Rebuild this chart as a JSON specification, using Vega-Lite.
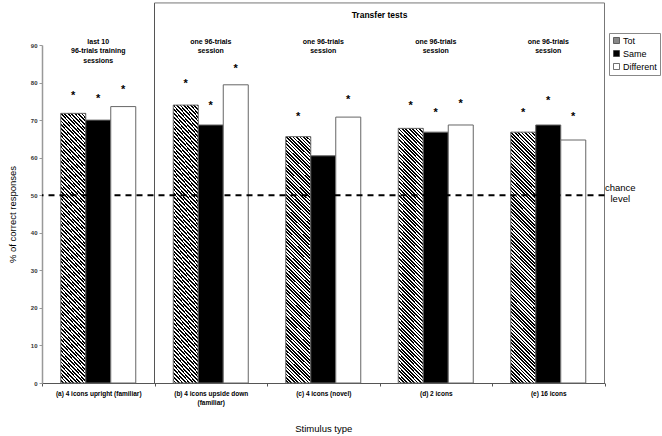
{
  "$schema": "https://vega.github.io/schema/vega-lite/v6.json",
  "width": 562.5,
  "height": 338,
  "autosize": {"type": "none"},
  "padding": {"left": 42, "top": 45, "right": 57.5, "bottom": 53},
  "background": "white",
  "config": {
    "view": {"stroke": null},
    "font": "Liberation Sans, Arial, sans-serif",
    "axisY": {"tickCount": 10, "labelOverlap": false, "labelBound": false}
  },
  "datasets": {
    "bars": [
      {"group": "(a) 4 icons upright (familiar)", "type": "Tot", "value": 71.8, "star": 76.4},
      {"group": "(a) 4 icons upright (familiar)", "type": "Same", "value": 70.0, "star": 75.5},
      {"group": "(a) 4 icons upright (familiar)", "type": "Different", "value": 73.6, "star": 78.0},
      {"group": "(b) 4 icons upside down (familiar)", "type": "Tot", "value": 74.0, "star": 79.5},
      {"group": "(b) 4 icons upside down (familiar)", "type": "Same", "value": 68.7, "star": 73.8},
      {"group": "(b) 4 icons upside down (familiar)", "type": "Different", "value": 79.4, "star": 83.7},
      {"group": "(c) 4 icons (novel)", "type": "Tot", "value": 65.6, "star": 70.7},
      {"group": "(c) 4 icons (novel)", "type": "Same", "value": 60.5, "star": null},
      {"group": "(c) 4 icons (novel)", "type": "Different", "value": 70.8, "star": 75.4},
      {"group": "(d) 2 icons", "type": "Tot", "value": 67.8, "star": 73.8},
      {"group": "(d) 2 icons", "type": "Same", "value": 66.8, "star": 71.8},
      {"group": "(d) 2 icons", "type": "Different", "value": 68.7, "star": 74.2},
      {"group": "(e) 16 icons", "type": "Tot", "value": 66.8, "star": 71.8},
      {"group": "(e) 16 icons", "type": "Same", "value": 68.7, "star": 75.1},
      {"group": "(e) 16 icons", "type": "Different", "value": 64.7, "star": 70.9}
    ],
    "notes": [
      {"group": "(a) 4 icons upright (familiar)", "label": "last 10\n96-trials training\nsessions"},
      {"group": "(b) 4 icons upside down (familiar)", "label": "one 96-trials\nsession"},
      {"group": "(c) 4 icons (novel)", "label": "one 96-trials\nsession"},
      {"group": "(d) 2 icons", "label": "one 96-trials\nsession"},
      {"group": "(e) 16 icons", "label": "one 96-trials\nsession"}
    ]
  },
  "layer": [
    {
      "data": {"name": "bars"},
      "mark": {"type": "bar", "stroke": "#666", "strokeWidth": 1},
      "encoding": {
        "x": {
          "field": "group", "type": "nominal", "sort": null,
          "scale": {"domain": ["(a) 4 icons upright (familiar)", "(b) 4 icons upside down (familiar)", "(c) 4 icons (novel)", "(d) 2 icons", "(e) 16 icons"], "paddingInner": 0, "paddingOuter": 0},
          "axis": {
            "title": "Stimulus type", "titleFontSize": 9.5, "titleFontWeight": "normal", "titleColor": "#000",
            "titleY": 45, "titleBaseline": "middle",
            "labelAngle": 0, "labelFontSize": 6.5, "labelFontWeight": "bold", "labelColor": "#000",
            "labelPadding": 4, "labelLineHeight": 9, "labelLimit": 0, "labelOverlap": false,
            "labelExpr": "datum.value == '(b) 4 icons upside down (familiar)' ? ['(b) 4 icons upside down', '(familiar)'] : datum.value",
            "tickBand": "extent", "tickSize": 3, "domainColor": "#555", "tickColor": "#555"
          }
        },
        "xOffset": {
          "field": "type", "type": "nominal", "sort": ["Tot", "Same", "Different"],
          "scale": {"domain": ["Tot", "Same", "Different"], "paddingInner": 0, "paddingOuter": 0.75}
        },
        "y": {
          "field": "value", "type": "quantitative",
          "scale": {"domain": [0, 90], "nice": false},
          "axis": {
            "title": "% of correct responses", "titleFontSize": 9.5, "titleFontWeight": "normal", "titleColor": "#000",
            "titleX": -30, "titleBaseline": "middle",
            "values": [0, 10, 20, 30, 40, 50, 60, 70, 80, 90], "tickCount": 10,
            "labelOverlap": false, "labelBound": false,
            "labelFontSize": 6, "labelFontWeight": "bold", "labelColor": "#333", "labelPadding": 2,
            "tickSize": 3, "tickColor": "#999", "domainColor": "#999", "domainWidth": 1.5, "grid": false
          }
        },
        "fill": {
          "condition": {
            "test": "datum.type === 'Tot'",
            "value": {
              "gradient": "linear", "x1": 1, "y1": 0, "x2": 0.891, "y2": 1.089,
              "stops": [
{"offset":0,"color":"#000"},{"offset":0.00625,"color":"#000"},{"offset":0.00625,"color":"#fff"},{"offset":0.0125,"color":"#fff"},
{"offset":0.0125,"color":"#000"},{"offset":0.01875,"color":"#000"},{"offset":0.01875,"color":"#fff"},{"offset":0.025,"color":"#fff"},
{"offset":0.025,"color":"#000"},{"offset":0.03125,"color":"#000"},{"offset":0.03125,"color":"#fff"},{"offset":0.0375,"color":"#fff"},
{"offset":0.0375,"color":"#000"},{"offset":0.04375,"color":"#000"},{"offset":0.04375,"color":"#fff"},{"offset":0.05,"color":"#fff"},
{"offset":0.05,"color":"#000"},{"offset":0.05625,"color":"#000"},{"offset":0.05625,"color":"#fff"},{"offset":0.0625,"color":"#fff"},
{"offset":0.0625,"color":"#000"},{"offset":0.06875,"color":"#000"},{"offset":0.06875,"color":"#fff"},{"offset":0.075,"color":"#fff"},
{"offset":0.075,"color":"#000"},{"offset":0.08125,"color":"#000"},{"offset":0.08125,"color":"#fff"},{"offset":0.0875,"color":"#fff"},
{"offset":0.0875,"color":"#000"},{"offset":0.09375,"color":"#000"},{"offset":0.09375,"color":"#fff"},{"offset":0.1,"color":"#fff"},
{"offset":0.1,"color":"#000"},{"offset":0.10625,"color":"#000"},{"offset":0.10625,"color":"#fff"},{"offset":0.1125,"color":"#fff"},
{"offset":0.1125,"color":"#000"},{"offset":0.11875,"color":"#000"},{"offset":0.11875,"color":"#fff"},{"offset":0.125,"color":"#fff"},
{"offset":0.125,"color":"#000"},{"offset":0.13125,"color":"#000"},{"offset":0.13125,"color":"#fff"},{"offset":0.1375,"color":"#fff"},
{"offset":0.1375,"color":"#000"},{"offset":0.14375,"color":"#000"},{"offset":0.14375,"color":"#fff"},{"offset":0.15,"color":"#fff"},
{"offset":0.15,"color":"#000"},{"offset":0.15625,"color":"#000"},{"offset":0.15625,"color":"#fff"},{"offset":0.1625,"color":"#fff"},
{"offset":0.1625,"color":"#000"},{"offset":0.16875,"color":"#000"},{"offset":0.16875,"color":"#fff"},{"offset":0.175,"color":"#fff"},
{"offset":0.175,"color":"#000"},{"offset":0.18125,"color":"#000"},{"offset":0.18125,"color":"#fff"},{"offset":0.1875,"color":"#fff"},
{"offset":0.1875,"color":"#000"},{"offset":0.19375,"color":"#000"},{"offset":0.19375,"color":"#fff"},{"offset":0.2,"color":"#fff"},
{"offset":0.2,"color":"#000"},{"offset":0.20625,"color":"#000"},{"offset":0.20625,"color":"#fff"},{"offset":0.2125,"color":"#fff"},
{"offset":0.2125,"color":"#000"},{"offset":0.21875,"color":"#000"},{"offset":0.21875,"color":"#fff"},{"offset":0.225,"color":"#fff"},
{"offset":0.225,"color":"#000"},{"offset":0.23125,"color":"#000"},{"offset":0.23125,"color":"#fff"},{"offset":0.2375,"color":"#fff"},
{"offset":0.2375,"color":"#000"},{"offset":0.24375,"color":"#000"},{"offset":0.24375,"color":"#fff"},{"offset":0.25,"color":"#fff"},
{"offset":0.25,"color":"#000"},{"offset":0.25625,"color":"#000"},{"offset":0.25625,"color":"#fff"},{"offset":0.2625,"color":"#fff"},
{"offset":0.2625,"color":"#000"},{"offset":0.26875,"color":"#000"},{"offset":0.26875,"color":"#fff"},{"offset":0.275,"color":"#fff"},
{"offset":0.275,"color":"#000"},{"offset":0.28125,"color":"#000"},{"offset":0.28125,"color":"#fff"},{"offset":0.2875,"color":"#fff"},
{"offset":0.2875,"color":"#000"},{"offset":0.29375,"color":"#000"},{"offset":0.29375,"color":"#fff"},{"offset":0.3,"color":"#fff"},
{"offset":0.3,"color":"#000"},{"offset":0.30625,"color":"#000"},{"offset":0.30625,"color":"#fff"},{"offset":0.3125,"color":"#fff"},
{"offset":0.3125,"color":"#000"},{"offset":0.31875,"color":"#000"},{"offset":0.31875,"color":"#fff"},{"offset":0.325,"color":"#fff"},
{"offset":0.325,"color":"#000"},{"offset":0.33125,"color":"#000"},{"offset":0.33125,"color":"#fff"},{"offset":0.3375,"color":"#fff"},
{"offset":0.3375,"color":"#000"},{"offset":0.34375,"color":"#000"},{"offset":0.34375,"color":"#fff"},{"offset":0.35,"color":"#fff"},
{"offset":0.35,"color":"#000"},{"offset":0.35625,"color":"#000"},{"offset":0.35625,"color":"#fff"},{"offset":0.3625,"color":"#fff"},
{"offset":0.3625,"color":"#000"},{"offset":0.36875,"color":"#000"},{"offset":0.36875,"color":"#fff"},{"offset":0.375,"color":"#fff"},
{"offset":0.375,"color":"#000"},{"offset":0.38125,"color":"#000"},{"offset":0.38125,"color":"#fff"},{"offset":0.3875,"color":"#fff"},
{"offset":0.3875,"color":"#000"},{"offset":0.39375,"color":"#000"},{"offset":0.39375,"color":"#fff"},{"offset":0.4,"color":"#fff"},
{"offset":0.4,"color":"#000"},{"offset":0.40625,"color":"#000"},{"offset":0.40625,"color":"#fff"},{"offset":0.4125,"color":"#fff"},
{"offset":0.4125,"color":"#000"},{"offset":0.41875,"color":"#000"},{"offset":0.41875,"color":"#fff"},{"offset":0.425,"color":"#fff"},
{"offset":0.425,"color":"#000"},{"offset":0.43125,"color":"#000"},{"offset":0.43125,"color":"#fff"},{"offset":0.4375,"color":"#fff"},
{"offset":0.4375,"color":"#000"},{"offset":0.44375,"color":"#000"},{"offset":0.44375,"color":"#fff"},{"offset":0.45,"color":"#fff"},
{"offset":0.45,"color":"#000"},{"offset":0.45625,"color":"#000"},{"offset":0.45625,"color":"#fff"},{"offset":0.4625,"color":"#fff"},
{"offset":0.4625,"color":"#000"},{"offset":0.46875,"color":"#000"},{"offset":0.46875,"color":"#fff"},{"offset":0.475,"color":"#fff"},
{"offset":0.475,"color":"#000"},{"offset":0.48125,"color":"#000"},{"offset":0.48125,"color":"#fff"},{"offset":0.4875,"color":"#fff"},
{"offset":0.4875,"color":"#000"},{"offset":0.49375,"color":"#000"},{"offset":0.49375,"color":"#fff"},{"offset":0.5,"color":"#fff"},
{"offset":0.5,"color":"#000"},{"offset":0.50625,"color":"#000"},{"offset":0.50625,"color":"#fff"},{"offset":0.5125,"color":"#fff"},
{"offset":0.5125,"color":"#000"},{"offset":0.51875,"color":"#000"},{"offset":0.51875,"color":"#fff"},{"offset":0.525,"color":"#fff"},
{"offset":0.525,"color":"#000"},{"offset":0.53125,"color":"#000"},{"offset":0.53125,"color":"#fff"},{"offset":0.5375,"color":"#fff"},
{"offset":0.5375,"color":"#000"},{"offset":0.54375,"color":"#000"},{"offset":0.54375,"color":"#fff"},{"offset":0.55,"color":"#fff"},
{"offset":0.55,"color":"#000"},{"offset":0.55625,"color":"#000"},{"offset":0.55625,"color":"#fff"},{"offset":0.5625,"color":"#fff"},
{"offset":0.5625,"color":"#000"},{"offset":0.56875,"color":"#000"},{"offset":0.56875,"color":"#fff"},{"offset":0.575,"color":"#fff"},
{"offset":0.575,"color":"#000"},{"offset":0.58125,"color":"#000"},{"offset":0.58125,"color":"#fff"},{"offset":0.5875,"color":"#fff"},
{"offset":0.5875,"color":"#000"},{"offset":0.59375,"color":"#000"},{"offset":0.59375,"color":"#fff"},{"offset":0.6,"color":"#fff"},
{"offset":0.6,"color":"#000"},{"offset":0.60625,"color":"#000"},{"offset":0.60625,"color":"#fff"},{"offset":0.6125,"color":"#fff"},
{"offset":0.6125,"color":"#000"},{"offset":0.61875,"color":"#000"},{"offset":0.61875,"color":"#fff"},{"offset":0.625,"color":"#fff"},
{"offset":0.625,"color":"#000"},{"offset":0.63125,"color":"#000"},{"offset":0.63125,"color":"#fff"},{"offset":0.6375,"color":"#fff"},
{"offset":0.6375,"color":"#000"},{"offset":0.64375,"color":"#000"},{"offset":0.64375,"color":"#fff"},{"offset":0.65,"color":"#fff"},
{"offset":0.65,"color":"#000"},{"offset":0.65625,"color":"#000"},{"offset":0.65625,"color":"#fff"},{"offset":0.6625,"color":"#fff"},
{"offset":0.6625,"color":"#000"},{"offset":0.66875,"color":"#000"},{"offset":0.66875,"color":"#fff"},{"offset":0.675,"color":"#fff"},
{"offset":0.675,"color":"#000"},{"offset":0.68125,"color":"#000"},{"offset":0.68125,"color":"#fff"},{"offset":0.6875,"color":"#fff"},
{"offset":0.6875,"color":"#000"},{"offset":0.69375,"color":"#000"},{"offset":0.69375,"color":"#fff"},{"offset":0.7,"color":"#fff"},
{"offset":0.7,"color":"#000"},{"offset":0.70625,"color":"#000"},{"offset":0.70625,"color":"#fff"},{"offset":0.7125,"color":"#fff"},
{"offset":0.7125,"color":"#000"},{"offset":0.71875,"color":"#000"},{"offset":0.71875,"color":"#fff"},{"offset":0.725,"color":"#fff"},
{"offset":0.725,"color":"#000"},{"offset":0.73125,"color":"#000"},{"offset":0.73125,"color":"#fff"},{"offset":0.7375,"color":"#fff"},
{"offset":0.7375,"color":"#000"},{"offset":0.74375,"color":"#000"},{"offset":0.74375,"color":"#fff"},{"offset":0.75,"color":"#fff"},
{"offset":0.75,"color":"#000"},{"offset":0.75625,"color":"#000"},{"offset":0.75625,"color":"#fff"},{"offset":0.7625,"color":"#fff"},
{"offset":0.7625,"color":"#000"},{"offset":0.76875,"color":"#000"},{"offset":0.76875,"color":"#fff"},{"offset":0.775,"color":"#fff"},
{"offset":0.775,"color":"#000"},{"offset":0.78125,"color":"#000"},{"offset":0.78125,"color":"#fff"},{"offset":0.7875,"color":"#fff"},
{"offset":0.7875,"color":"#000"},{"offset":0.79375,"color":"#000"},{"offset":0.79375,"color":"#fff"},{"offset":0.8,"color":"#fff"},
{"offset":0.8,"color":"#000"},{"offset":0.80625,"color":"#000"},{"offset":0.80625,"color":"#fff"},{"offset":0.8125,"color":"#fff"},
{"offset":0.8125,"color":"#000"},{"offset":0.81875,"color":"#000"},{"offset":0.81875,"color":"#fff"},{"offset":0.825,"color":"#fff"},
{"offset":0.825,"color":"#000"},{"offset":0.83125,"color":"#000"},{"offset":0.83125,"color":"#fff"},{"offset":0.8375,"color":"#fff"},
{"offset":0.8375,"color":"#000"},{"offset":0.84375,"color":"#000"},{"offset":0.84375,"color":"#fff"},{"offset":0.85,"color":"#fff"},
{"offset":0.85,"color":"#000"},{"offset":0.85625,"color":"#000"},{"offset":0.85625,"color":"#fff"},{"offset":0.8625,"color":"#fff"},
{"offset":0.8625,"color":"#000"},{"offset":0.86875,"color":"#000"},{"offset":0.86875,"color":"#fff"},{"offset":0.875,"color":"#fff"},
{"offset":0.875,"color":"#000"},{"offset":0.88125,"color":"#000"},{"offset":0.88125,"color":"#fff"},{"offset":0.8875,"color":"#fff"},
{"offset":0.8875,"color":"#000"},{"offset":0.89375,"color":"#000"},{"offset":0.89375,"color":"#fff"},{"offset":0.9,"color":"#fff"},
{"offset":0.9,"color":"#000"},{"offset":0.90625,"color":"#000"},{"offset":0.90625,"color":"#fff"},{"offset":0.9125,"color":"#fff"},
{"offset":0.9125,"color":"#000"},{"offset":0.91875,"color":"#000"},{"offset":0.91875,"color":"#fff"},{"offset":0.925,"color":"#fff"},
{"offset":0.925,"color":"#000"},{"offset":0.93125,"color":"#000"},{"offset":0.93125,"color":"#fff"},{"offset":0.9375,"color":"#fff"},
{"offset":0.9375,"color":"#000"},{"offset":0.94375,"color":"#000"},{"offset":0.94375,"color":"#fff"},{"offset":0.95,"color":"#fff"},
{"offset":0.95,"color":"#000"},{"offset":0.95625,"color":"#000"},{"offset":0.95625,"color":"#fff"},{"offset":0.9625,"color":"#fff"},
{"offset":0.9625,"color":"#000"},{"offset":0.96875,"color":"#000"},{"offset":0.96875,"color":"#fff"},{"offset":0.975,"color":"#fff"},
{"offset":0.975,"color":"#000"},{"offset":0.98125,"color":"#000"},{"offset":0.98125,"color":"#fff"},{"offset":0.9875,"color":"#fff"},
{"offset":0.9875,"color":"#000"},{"offset":0.99375,"color":"#000"},{"offset":0.99375,"color":"#fff"},{"offset":1,"color":"#fff"}
              ]
            }
          },
          "field": "type", "type": "nominal",
          "scale": {"domain": ["Tot", "Same", "Different"], "range": ["#888888", "#000000", "#ffffff"]},
          "legend": {
            "title": null, "orient": "none", "legendX": 567, "legendY": -12,
            "strokeColor": "#888", "padding": 3, "symbolType": "square", "symbolSize": 36,
            "symbolStrokeColor": "#333", "symbolStrokeWidth": 0.7, "labelFontSize": 9, "labelColor": "#000",
            "labelOffset": 2, "rowPadding": 3,
            "encode": {
              "symbols": {
                "update": {
                  "fill": [
                    {"test": "datum.value === 'Tot'", "value": {"gradient": "linear", "x1": 1, "y1": 0, "x2": 0, "y2": 1, "stops": [
                      {"offset": 0, "color": "#000"}, {"offset": 0.12, "color": "#000"}, {"offset": 0.12, "color": "#fff"}, {"offset": 0.333, "color": "#fff"},
                      {"offset": 0.333, "color": "#000"}, {"offset": 0.453, "color": "#000"}, {"offset": 0.453, "color": "#fff"}, {"offset": 0.667, "color": "#fff"},
                      {"offset": 0.667, "color": "#000"}, {"offset": 0.787, "color": "#000"}, {"offset": 0.787, "color": "#fff"}, {"offset": 1, "color": "#fff"}
                    ]}},
                    {"scale": "fill", "field": "value"}
                  ],
                  "stroke": {"value": "#333"},
                  "strokeWidth": {"value": 0.7}
                }
              }
            }
          }
        }
      }
    },
    {
      "data": {"name": "bars"},
      "transform": [{"filter": "datum.star != null"}],
      "mark": {"type": "text", "text": "*", "fontSize": 11, "fontWeight": "bold", "baseline": "middle", "align": "center"},
      "encoding": {
        "x": {"field": "group", "type": "nominal"},
        "xOffset": {"field": "type", "type": "nominal"},
        "y": {"field": "star", "type": "quantitative"}
      }
    },
    {
      "data": {"name": "notes"},
      "mark": {"type": "text", "lineBreak": "\n", "fontSize": 7, "fontWeight": "bold", "baseline": "top", "align": "center", "lineHeight": 9.5, "color": "#000"},
      "encoding": {
        "x": {"field": "group", "type": "nominal"},
        "y": {"datum": 91.9, "type": "quantitative"},
        "text": {"field": "label", "type": "nominal"}
      }
    },
    {
      "data": {"values": [{}]},
      "mark": {"type": "rule", "color": "#555", "strokeWidth": 1},
      "encoding": {
        "x": {"datum": "(b) 4 icons upside down (familiar)", "type": "nominal", "bandPosition": 0},
        "y": {"datum": 0, "type": "quantitative"},
        "y2": {"datum": 101.2}
      }
    },
    {
      "data": {"values": [{}]},
      "mark": {"type": "rule", "color": "#777", "strokeWidth": 1},
      "encoding": {
        "x": {"value": "width"},
        "y": {"datum": 0, "type": "quantitative"},
        "y2": {"datum": 101.2}
      }
    },
    {
      "data": {"values": [{}]},
      "mark": {"type": "rule", "color": "#777", "strokeWidth": 1},
      "encoding": {
        "x": {"datum": "(b) 4 icons upside down (familiar)", "type": "nominal", "bandPosition": 0},
        "x2": {"value": "width"},
        "y": {"datum": 101.2, "type": "quantitative"}
      }
    },
    {
      "data": {"values": [{}]},
      "mark": {"type": "text", "text": "Transfer tests", "fontSize": 8.5, "fontWeight": "bold", "baseline": "middle", "align": "center", "color": "#000"},
      "encoding": {
        "x": {"datum": "(c) 4 icons (novel)", "type": "nominal", "bandPosition": 1},
        "y": {"datum": 98, "type": "quantitative"}
      }
    },
    {
      "data": {"values": [{}]},
      "mark": {"type": "rule", "color": "#000", "strokeWidth": 2, "strokeDash": [6, 5]},
      "encoding": {
        "y": {"datum": 50, "type": "quantitative"}
      }
    },
    {
      "data": {"values": [{}]},
      "mark": {"type": "text", "text": "chance\nlevel", "lineBreak": "\n", "fontSize": 9.5, "baseline": "middle", "align": "center", "lineHeight": 11, "color": "#000"},
      "encoding": {
        "x": {"datum": "(e) 16 icons", "type": "nominal", "bandPosition": 1.14},
        "y": {"datum": 52, "type": "quantitative"}
      }
    }
  ]
}
